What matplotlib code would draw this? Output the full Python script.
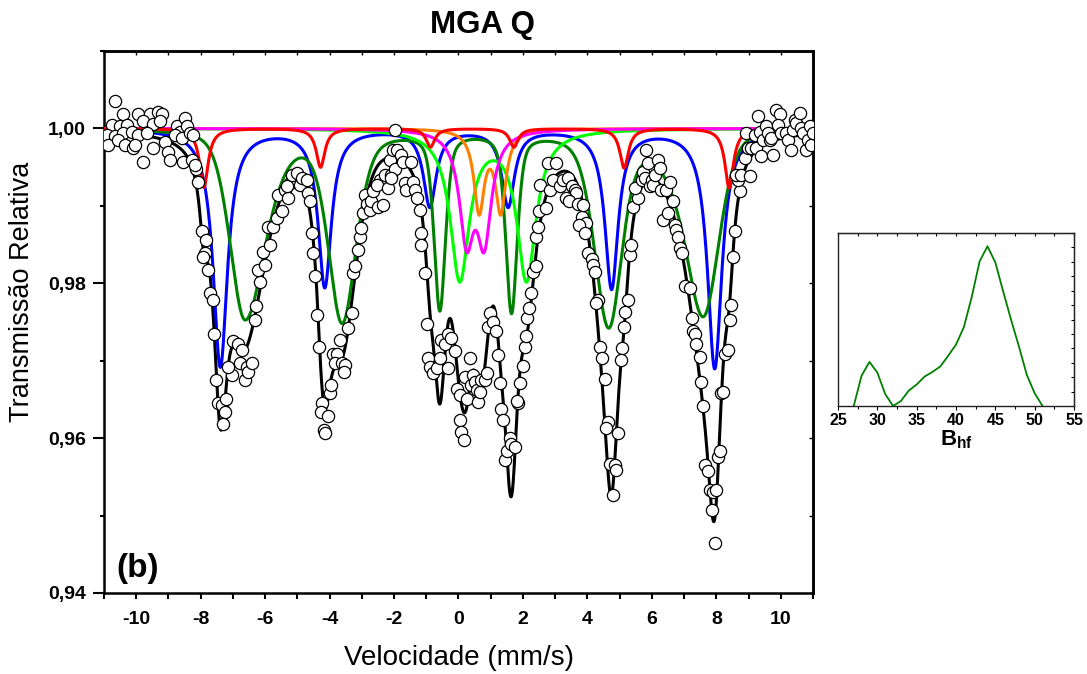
import numpy as np
import matplotlib
matplotlib.use('Agg')
import matplotlib.pyplot as plt
from matplotlib.ticker import MultipleLocator, FuncFormatter, NullFormatter

plt.rcParams['font.family'] = ['Liberation Sans', 'DejaVu Sans']
plt.rcParams['axes.unicode_minus'] = False
plt.rcParams['mathtext.fontset'] = 'custom'
plt.rcParams['mathtext.rm'] = 'Liberation Sans'
plt.rcParams['mathtext.bf'] = 'Liberation Sans:bold'

# ---------------- measured spectrum (velocity mm/s, relative transmission) ----------------
vel = [-10.66, -10.40, -9.94, -9.57, -9.31, -9.21, -10.76, -10.50, -10.30, -9.78, -9.47, -9.26,
       -10.92, -10.66, -10.40, -10.14, -9.94, -9.68, -10.87, -10.56, -10.35, -10.09, -10.04, -9.78,
       -9.47, -9.11, -9.00, -8.95, -8.75, -8.64, -8.49, -8.44, -8.54, -8.80, -8.59, -8.33, -8.23,
       -8.28, -8.13, -8.07, -8.18, -7.97, -7.82, -7.87, -7.92, -7.76, -7.71, -7.61, -7.58, -7.53,
       -7.45, -7.35, -7.25, -7.20, -7.30, -7.04, -7.14, -6.99, -6.83, -6.73, -6.78, -6.63, -6.57,
       -6.52,
       -6.42, -6.32, -6.27, -6.16, -6.21, -6.01, -6.06, -5.85, -5.90, -5.75, -5.645, -5.59, -5.49,
       -5.39, -5.28, -5.23, -5.33, -5.18, -5.02, -4.92, -4.87, -4.71, -4.66, -4.61, -4.56, -4.51,
       -4.46, -4.40, -4.33, -4.25, -4.27, -4.06, -4.17, -4.15, -3.99, -3.96, -3.89, -3.78, -3.84,
       -3.68, -3.63, -3.53, -3.55, -3.42, -3.32, -3.27, -3.22, -3.11, -3.06, -3.01, -2.96, -2.905,
       -2.85, -2.75, -2.70, -2.65, -2.49, -2.44, -2.54, -2.34, -2.285, -2.18, -2.13, -2.03, -2.08,
       -1.97,
       -1.97, -2.08, -1.92, -1.77, -1.72, -1.66, -1.63, -1.46, -1.40, -1.35, -1.30, -1.20, -1.15,
       -1.17, -1.04, -0.99, -0.94, -0.89, -0.785, -0.68, -0.58, -0.53, -0.42, -0.32, -0.22, -0.11,
       -0.32, -0.06, 0.04, 0.04, 0.09, 0.17, 0.25, 0.20, 0.35, 0.40, 0.456, 0.51, 0.56, 0.61, 0.66,
       0.71, 0.82, 0.87, 0.92, 0.97, 1.08, 1.16, 1.23, 1.28, 1.33, 1.39, 1.44, 1.49, 1.59, 1.64,
       1.75, 1.85, 1.80, 1.92, 1.99, 2.06, 2.09, 2.13, 2.19, 2.265, 2.32, 2.42, 2.42, 2.47, 2.50,
       2.52,
       2.73, 2.83, 2.78, 3.04, 2.94, 3.14, 3.25, 3.40, 3.51, 3.61, 3.66, 3.35, 3.43, 3.71, 3.82,
       3.87, 3.97, 3.73, 3.92, 4.02, 4.13, 4.18, 4.23, 4.33, 4.28, 4.38, 4.44, 4.54, 4.64, 4.59,
       4.95, 4.69, 4.85, 4.90, 4.80, 5.06, 5.035, 5.16, 5.26, 5.14, 5.31, 5.35, 5.42, 5.57, 5.47,
       5.68, 5.73, 5.83, 5.78, 5.935, 5.88, 5.99, 6.04, 6.09, 6.19, 6.245, 6.27, 6.35, 6.45, 6.556,
       6.50, 6.66, 6.71, 6.76, 6.81, 6.87, 6.92, 7.02,
       7.18, 7.23, 7.28, 7.33, 7.38, 7.49, 7.54, 7.59, 7.64, 7.75, 7.80, 7.90, 7.87, 8.00, 8.06,
       8.11, 7.95, 8.16, 8.21, 8.26, 8.37, 8.42, 8.47, 8.52, 8.57, 8.73, 8.68, 8.62, 8.78, 9.04,
       8.88, 8.93, 8.99, 9.09, 9.24, 9.20, 9.30, 9.40, 9.35, 9.45, 9.55, 9.61, 9.66, 9.76, 9.71,
       9.86, 9.97, 9.90, 10.02, 10.17, 10.23, 10.33, 10.38, 10.43, 10.48, 10.59, 10.64, 10.69,
       10.79, 10.85, 10.90, 10.95, 11.00]
trans = [1.0036, 1.0018, 1.0018, 1.0019, 1.0021, 1.0018, 1.0005, 1.0003, 1.0005, 1.0009, 1.0006, 1.0009,
         0.9992, 0.9990, 0.9994, 0.9996, 0.9992, 0.9994, 0.9979, 0.9985, 0.9979, 0.9975, 0.9979, 0.9957,
         0.9975, 0.9983, 0.9970, 0.9959, 1.0003, 0.9996, 1.0013, 1.0003, 0.9957, 0.9992, 0.9987, 0.9994, 0.9992,
         0.9959, 0.9947, 0.9931, 0.9953, 0.9867, 0.9856, 0.9839, 0.9834, 0.9817, 0.9787, 0.9778, 0.9735, 0.9675,
         0.9645, 0.9643, 0.9634, 0.9651, 0.9618, 0.9681, 0.9692, 0.9725, 0.9722, 0.9714, 0.9697, 0.9675, 0.9692,
         0.9686,
         0.9697, 0.9753, 0.9771, 0.9802, 0.9817, 0.9824, 0.9841, 0.9850, 0.9873, 0.9873, 0.9884, 0.9914, 0.9893,
         0.9921, 0.9910, 0.9929, 0.9925, 0.9940, 0.9942, 0.9927, 0.9936, 0.9934, 0.9916, 0.9906, 0.9865, 0.9839,
         0.9809, 0.9759, 0.9718, 0.9645, 0.9634, 0.9629, 0.9610, 0.9606, 0.9658, 0.9669, 0.9709, 0.9709, 0.9697,
         0.9727, 0.9697, 0.9694, 0.9686, 0.9742, 0.9762, 0.9813, 0.9822, 0.9843, 0.9860, 0.9871, 0.9891, 0.9914,
         0.9903, 0.9895, 0.9906, 0.9919, 0.9899, 0.9934, 0.9927, 0.9901, 0.9940, 0.9923, 0.9959, 0.9972, 0.9940,
         0.9998,
         0.9947, 0.9936, 0.9972, 0.9966, 0.9957, 0.9929, 0.9921, 0.9957, 0.9931, 0.9921, 0.9910, 0.9895, 0.9865,
         0.9850, 0.9813, 0.9748, 0.9703, 0.9692, 0.9684, 0.9690, 0.9703, 0.9727, 0.9722, 0.9735, 0.9729, 0.9712,
         0.9690, 0.9664, 0.9656, 0.9623, 0.9608, 0.9598, 0.9651, 0.9679, 0.9703, 0.9669, 0.9681, 0.9673, 0.9662, 0.9647, 0.9660,
         0.9675, 0.9675, 0.9684, 0.9744, 0.9762, 0.9750, 0.9738, 0.9707, 0.9671, 0.9638, 0.9623, 0.9572, 0.9584, 0.9600, 0.9593,
         0.9589, 0.9645, 0.9648, 0.9671, 0.9693, 0.9718, 0.9732, 0.9755, 0.9768, 0.9787, 0.9815, 0.9822, 0.9860, 0.9873, 0.9893,
         0.9927,
         0.9897, 0.9921, 0.9955, 0.9955, 0.9934, 0.9925, 0.9934, 0.9936, 0.9925, 0.9921, 0.9916, 0.9910, 0.9906, 0.9903, 0.9886,
         0.9901, 0.9878, 0.9875, 0.9865, 0.9839, 0.9832, 0.9824, 0.9815, 0.9778, 0.9774, 0.9718, 0.9703, 0.9677, 0.9621, 0.9613,
         0.9606, 0.9567, 0.9565, 0.9559, 0.9526, 0.9716, 0.9701, 0.9763, 0.9778, 0.9743, 0.9837, 0.9850, 0.9899, 0.9910, 0.9923,
         0.9934, 0.9944, 0.9972, 0.9936, 0.9925, 0.9955, 0.9934, 0.9927, 0.9940, 0.9959, 0.9949, 0.9921, 0.9882, 0.9921, 0.9931,
         0.9891, 0.9906, 0.9875, 0.9869, 0.9860, 0.9845, 0.9839, 0.9796,
         0.9794, 0.9755, 0.9738, 0.9735, 0.9722, 0.9705, 0.9673, 0.9641, 0.9565, 0.9557, 0.9533, 0.9531, 0.9507, 0.9533, 0.9576,
         0.9584, 0.9464, 0.9658, 0.9660, 0.9709, 0.9714, 0.9753, 0.9772, 0.9834, 0.9867, 0.9919, 0.9934, 0.9940, 0.9940, 0.9938,
         0.9962, 0.9994, 0.9975, 0.9975, 0.9975, 0.9992, 1.0016, 0.9964, 0.9996, 0.9985, 1.0003, 0.9994, 0.9985, 0.9966, 0.9987,
         1.0024, 1.0018, 1.0005, 0.9994, 0.9994, 0.9985, 0.9972, 0.9998, 1.0011, 1.0007, 1.0020, 1.0000, 0.9994,
         0.9972, 0.9985, 1.0003, 0.9979, 0.9994]

# ---------------- fitted sub-spectra: line positions (mm/s), depths, half widths ----------------
blue_pos = [-7.39, -4.15, -0.89, 1.54, 4.75, 7.95]
blue_amp = [0.0307, 0.0203, 0.0099, 0.0099, 0.0205, 0.0309]
blue_hw = [0.27, 0.25, 0.24, 0.24, 0.25, 0.27]

red_pos = [-7.90, -4.28, -0.87, 1.72, 5.14, 8.40]
red_amp = [0.0076, 0.0050, 0.0024, 0.0024, 0.0051, 0.0077]
red_hw = [0.16, 0.16, 0.16, 0.16, 0.16, 0.16]

lime_pos = [0.04, 2.11]
lime_amp = [0.0193, 0.0193]
lime_hw = [0.36, 0.36]

magenta_pos = [0.25, 0.80]
magenta_amp = [0.0134, 0.0134]
magenta_hw = [0.27, 0.27]

orange_pos = [0.64, 1.31]
orange_amp = [0.0104, 0.0104]
orange_hw = [0.195, 0.195]

# hyperfine-field distribution sextet (asymmetric pseudo-Voigt lines)
green_pos = [-6.62, -3.61, -0.58, 1.645, 4.66, 7.59]
green_amp = [0.0244, 0.0243, 0.0228, 0.0231, 0.0246, 0.0240]
green_wl = [0.55, 0.50, 0.21, 0.21, 0.52, 0.70]
green_wr = [0.75, 0.52, 0.21, 0.21, 0.48, 0.58]
green_el = [0.3, 0.4, 0.5, 0.5, 0.4, 0.8]
green_er = [0.5, 0.4, 0.5, 0.5, 0.4, 0.3]

# inset: B_hf distribution
bhf = [27, 28, 29, 30, 31, 32, 33, 34, 35, 36, 37, 38, 39, 40, 41, 42, 43, 44, 45, 46, 47, 48, 49, 50, 51]
prob = [0.0, 2.11, 3.06, 2.32, 0.83, 0.0, 0.35, 1.07, 1.49, 2.04, 2.36, 2.74, 3.48, 4.26, 5.47,
        7.56, 10.03, 11.08, 9.96, 7.94, 5.98, 4.13, 2.16, 0.88, 0.0]


def lorentz_sum(v, pos, amp, hw):
    out = np.zeros_like(v)
    for p, a, w in zip(pos, amp, hw):
        out += a * w ** 2 / ((v - p) ** 2 + w ** 2)
    return out


def pv_sum(v, pos, amp, wl, wr, el, er):
    out = np.zeros_like(v)
    for p, a, l, r, e1, e2 in zip(pos, amp, wl, wr, el, er):
        d = v - p
        w = np.where(d < 0, l, r)
        e = np.where(d < 0, e1, e2)
        x = (d / w) ** 2
        out += a * (e / (1 + x) + (1 - e) * np.exp(-np.log(2) * x))
    return out


v = np.linspace(-10.95, 10.95, 3000)
a_blue = lorentz_sum(v, blue_pos, blue_amp, blue_hw)
a_red = lorentz_sum(v, red_pos, red_amp, red_hw)
a_lime = lorentz_sum(v, lime_pos, lime_amp, lime_hw)
a_mag = lorentz_sum(v, magenta_pos, magenta_amp, magenta_hw)
a_orange = lorentz_sum(v, orange_pos, orange_amp, orange_hw)
a_green = pv_sum(v, green_pos, green_amp, green_wl, green_wr, green_el, green_er)
total = 1 - (a_blue + a_red + a_lime + a_mag + a_orange + a_green)

W, H = 1087, 674
fig = plt.figure(figsize=(W / 100, H / 100), dpi=100)
ax = fig.add_axes([104 / W, 1 - 593 / H, 709 / W, 542 / H])

lw = 2.2
ax.plot(v, total, color='black', lw=lw, zorder=2)
ax.plot(v, 1 - a_blue, color='#0000FF', lw=lw, zorder=3)
ax.plot(v, 1 - a_green, color='#008000', lw=lw, zorder=3)
ax.plot(v, 1 - a_lime, color='#00FF00', lw=lw, zorder=3)
ax.plot(v, 1 - a_orange, color='#FF8000', lw=lw, zorder=3)
ax.plot(v, 1 - a_mag, color='#FF00FF', lw=lw, zorder=3)
ax.plot(v, 1 - a_red, color='#FF0000', lw=lw, zorder=3)
ax.plot(vel, trans, 'o', ms=8.8, mfc='white', mec='black', mew=0.9, zorder=5, clip_on=True)

ax.set_xlim(-11, 11)
ax.set_ylim(0.94, 1.01)
ax.xaxis.set_major_locator(MultipleLocator(2))
ax.xaxis.set_minor_locator(MultipleLocator(1))
ax.yaxis.set_major_locator(MultipleLocator(0.02))
ax.yaxis.set_minor_locator(MultipleLocator(0.01))
ax.yaxis.set_major_formatter(FuncFormatter(lambda y, _: f'{y:.2f}'.replace('.', ',')))
ax.xaxis.set_major_formatter(FuncFormatter(lambda x, _: f'{x:.0f}'))
ax.tick_params(axis='x', which='both', direction='out', length=4, width=1.5, labelsize=14, pad=9)
ax.tick_params(axis='y', which='major', direction='out', length=8, width=1.5, labelsize=14, pad=5)
ax.tick_params(axis='y', which='minor', direction='out', length=3, width=1.5)
for lab in ax.get_xticklabels() + ax.get_yticklabels():
    lab.set_fontweight('bold')
for s in ax.spines.values():
    s.set_linewidth(1.8)

secx = ax.secondary_xaxis('top')
secx.xaxis.set_major_locator(MultipleLocator(1))
secx.xaxis.set_major_formatter(NullFormatter())
secx.tick_params(direction='in', length=3, width=1.0)
secx.spines['top'].set_linewidth(1.8)
secy = ax.secondary_yaxis('right')
secy.yaxis.set_major_locator(MultipleLocator(0.01))
secy.yaxis.set_major_formatter(NullFormatter())
secy.tick_params(direction='in', length=3, width=1.0)
secy.spines['right'].set_linewidth(1.8)

ax.text(-10.63, 0.9412, '(b)', fontsize=24, fontweight='bold', ha='left', va='bottom')

fig.text(483 / W, 1 - 25 / H, 'MGA Q', fontsize=22.5, fontweight='bold', ha='center', va='center')
fig.text(458.6 / W, 1 - 658 / H, 'Velocidade (mm/s)', fontsize=20, ha='center', va='center')
fig.text(22.5 / W, 1 - 292 / H, 'Transmissão Relativa', fontsize=19.5, rotation=90,
         ha='center', va='center')

# ---------------- inset ----------------
axi = fig.add_axes([838 / W, 1 - 406 / H, 236 / W, 173 / H])
axi.plot(bhf, prob, color='#008000', lw=1.3)
axi.set_xlim(25, 55)
axi.set_ylim(0, 12)
axi.xaxis.set_major_locator(MultipleLocator(5))
axi.xaxis.set_minor_locator(MultipleLocator(2.5))
axi.set_yticks([])
axi.tick_params(axis='x', which='major', direction='out', length=3, width=0.8, labelsize=11.5, pad=2)
axi.tick_params(axis='x', which='minor', direction='out', length=2, width=0.8)
for lab in axi.get_xticklabels():
    lab.set_fontweight('bold')
for s in axi.spines.values():
    s.set_linewidth(1.0)
    s.set_color('#222222')
sx = axi.secondary_xaxis('top')
sx.xaxis.set_major_locator(MultipleLocator(2.5))
sx.xaxis.set_major_formatter(NullFormatter())
sx.tick_params(direction='in', length=2.5, width=0.8)
sy = axi.secondary_yaxis('right')
sy.yaxis.set_major_locator(MultipleLocator(1))
sy.yaxis.set_major_formatter(NullFormatter())
sy.tick_params(direction='in', length=2.5, width=0.8)
axi.set_xlabel(r'$\mathbf{B}_{\mathbf{hf}}$', fontsize=16, labelpad=0)

fig.savefig('out.png', dpi=100)
